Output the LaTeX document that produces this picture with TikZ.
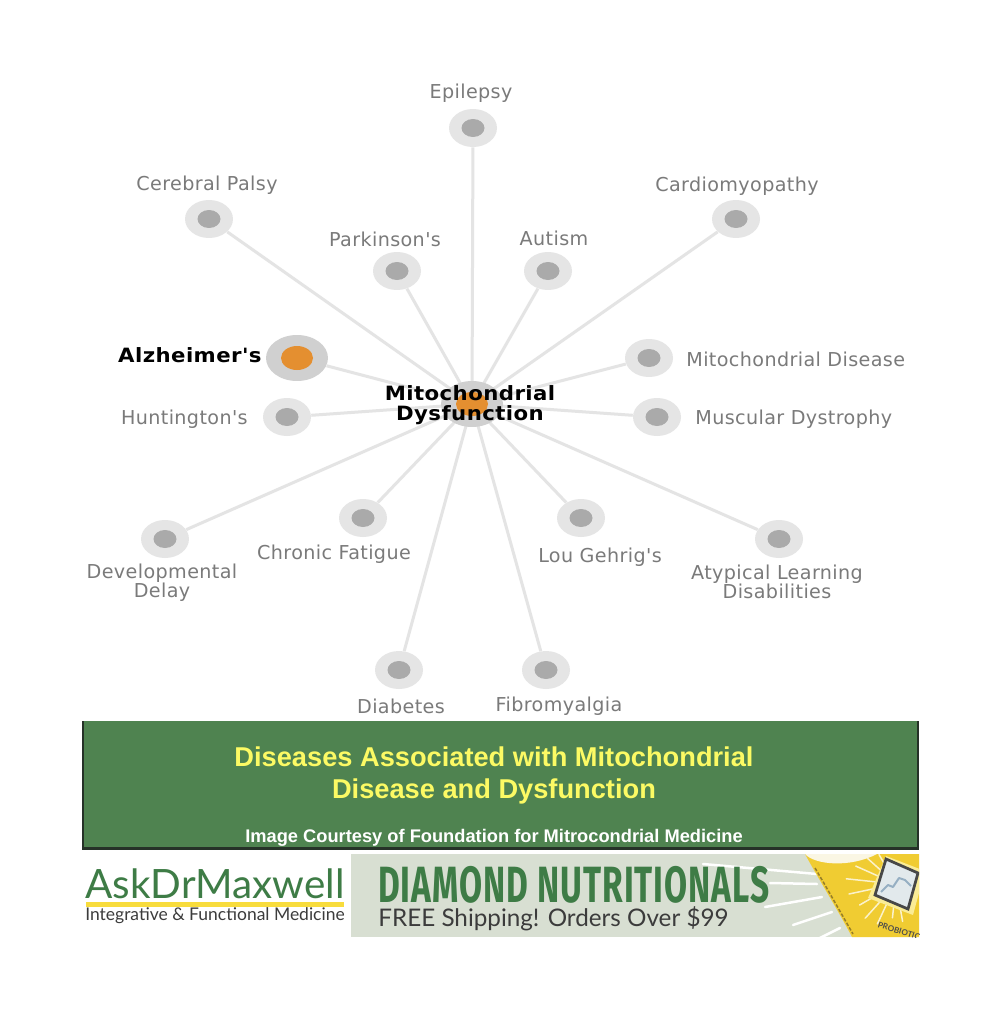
\documentclass[tikz,border=0pt]{standalone}
\usepackage{fontspec}
\setmainfont{Liberation Sans}
\newfontfamily\labelfont[LetterSpace=2]{DejaVu Sans}
\newfontfamily\logofont{Lato}
\newfontfamily\narrowfont[LetterSpace=3]{Fira Sans}
\usetikzlibrary{shapes.geometric}
\definecolor{spokeGrey}{RGB}{228,228,228}
\definecolor{haloGrey}{RGB}{229,229,229}
\definecolor{dotGrey}{RGB}{170,170,170}
\definecolor{activeHalo}{RGB}{208,208,208}
\definecolor{activeDot}{RGB}{228,143,48}
\definecolor{labelGrey}{RGB}{122,122,122}
\definecolor{bannerGreen}{RGB}{79,131,80}
\definecolor{bannerEdge}{RGB}{38,50,40}
\definecolor{bannerYellow}{RGB}{252,250,100}
\definecolor{logoGreen}{RGB}{62,124,70}
\definecolor{logoYellow}{RGB}{248,220,60}
\definecolor{logoText}{RGB}{60,60,60}
\definecolor{panelGrey}{RGB}{216,223,210}
\definecolor{bottleYellow}{RGB}{240,204,50}
\definecolor{bottleCream}{RGB}{250,246,228}
\definecolor{bottleGlow}{RGB}{250,236,150}
\definecolor{bottleStripe}{RGB}{150,125,40}
\definecolor{chartFill}{RGB}{226,233,236}
\definecolor{chartLine}{RGB}{150,175,195}

\begin{document}
\begin{tikzpicture}[x=.02cm,y=-.02cm,
      halo/.style={ellipse, inner sep=0pt, fill=haloGrey,
        minimum width=.96cm, minimum height=.76cm},
      dot/.style={ellipse, inner sep=0pt, fill=dotGrey,
        minimum width=.46cm, minimum height=.36cm},
      activehalo/.style={ellipse, inner sep=0pt, fill=activeHalo,
        minimum width=1.24cm, minimum height=.92cm},
      activedot/.style={ellipse, inner sep=0pt, fill=activeDot,
        minimum width=.64cm, minimum height=.48cm},
      spoke/.style={draw=spokeGrey, line width=.06cm},
      disease/.style={font=\fontsize{10.9}{10.8}\selectfont\labelfont,
        text=labelGrey, align=center, inner sep=0pt},
      strong/.style={font=\fontsize{11.2}{11.4}\selectfont\labelfont\bfseries,
        text=black, align=center, inner sep=0pt, xscale=1.08, transform shape},
      title/.style={font=\fontsize{15.5}{18.2}\selectfont\bfseries,
        text=bannerYellow, align=center, inner sep=0pt},
      ray/.style={draw=white, line width=.05cm, line cap=round},
      glow/.style={draw=white, line width=.03cm, line cap=round, opacity=.75}]
      \useasboundingbox (0,0) rectangle (1001,1024);
      \fill[white] (0,0) rectangle (1001,1024);

      \coordinate (center) at (472,404);
      \foreach \name/\x/\y in {epilepsy/473/128, palsy/209/219, parkinson/397/271,
          autism/548/271, cardio/736/219, mitodisease/649/358, muscular/657/417,
          atypical/779/539, gehrig/581/518, fibro/546/670, diabetes/399/670,
          fatigue/363/518, delay/165/539, huntington/287/417}{
        \node[halo] (\name) at (\x,\y) {};
        \node[dot] (\name Dot) at (\x,\y) {};
        \draw[spoke] (center) -- (\name);}
      \node[activehalo] (alzheimer) at (297,358) {};
      \node[activedot] (alzheimerDot) at (297,358) {};
      \draw[spoke] (center) -- (alzheimer);
      \node[activehalo] (hub) at (472,404) {};
      \node[activedot] (hubDot) at (472,404) {};

      \node[strong] (hubText) at (470,405) {Mitochondrial\\Dysfunction};
      \node[strong, anchor=east] (alzheimerText) at (262,355) {Alzheimer's};
      \node[disease] (epilepsyText) at (471,93) {Epilepsy};
      \node[disease] (palsyText) at (207,185) {Cerebral Palsy};
      \node[disease] (parkinsonText) at (385,239) {Parkinson's};
      \node[disease] (autismText) at (554,238) {Autism};
      \node[disease] (cardioText) at (737,186) {Cardiomyopathy};
      \node[disease, anchor=west] (mitodiseaseText) at (686,359) {Mitochondrial Disease};
      \node[disease, anchor=west] (muscularText) at (695,419) {Muscular Dystrophy};
      \node[disease, anchor=east] (huntingtonText) at (248,419) {Huntington's};
      \node[disease] (atypicalText) at (777,582) {Atypical Learning\\Disabilities};
      \node[disease] (gehrigText) at (600,557) {Lou Gehrig's};
      \node[disease] (fibroText) at (559,706) {Fibromyalgia};
      \node[disease] (diabetesText) at (401,706) {Diabetes};
      \node[disease] (fatigueText) at (334,554) {Chronic Fatigue};
      \node[disease] (delayText) at (162,583) {Developmental\\Delay};

      \fill[bannerEdge] (82,721) rectangle (919,850);
      \fill[bannerGreen] (84,721) rectangle (917,847);
      \node[title] (bannerTitle) at (494,775) {Diseases Associated with Mitochondrial\\Disease and Dysfunction};
      \node[font=\fontsize{10.4}{11}\selectfont\bfseries, text=white, inner sep=0pt]
        (bannerCredit) at (494,838) {Image Courtesy of Foundation for Mitrocondrial Medicine};

      \node[font=\fontsize{23}{23}\selectfont\logofont, text=logoGreen, inner sep=0pt]
        (logoName) at (215,884) {AskDrMaxwell};
      \fill[logoYellow] (86,902) rectangle (344,907);
      \node[font=\fontsize{9.95}{10}\selectfont\logofont, text=logoText, inner sep=0pt]
        (logoTag) at (215,916) {Integrative \& Functional Medicine};

      \begin{scope}
        \clip (351,854) rectangle (919,937);
        \fill[panelGrey] (351,854) rectangle (919,937);
        \draw[ray] (703,864) -- (817,874);
        \draw[ray] (770,883) -- (817,884);
        \draw[ray] (765,907) -- (822,897);
        \draw[ray] (793,925) -- (832,912);
        \draw[ray] (818,939) -- (840,928);
        \fill[bottleYellow] (805,854) .. controls (822,885) and (838,910) .. (852,937)
          -- (919,937) -- (919,854) -- cycle;
        \draw[bottleStripe, line width=.03cm, dash pattern=on 2pt off 1pt]
          (815,868) .. controls (827,888) and (842,915) .. (853,934);
        \fill[bottleCream] (805,854) .. controls (815,865) and (850,868) .. (877,854) -- cycle;
        % burst behind the chart
        \foreach \a/\r in {150/42, 168/48, 186/50, 204/44, 222/38, 96/34, 115/44, 132/46,
            240/34, 60/32, 80/38, 15/28, 335/30}{
          \draw[glow] (896,884) -- ++(\a:\r);}
        \fill[bottleGlow] (886,856) -- (925,871) -- (913,915) -- (868,898) -- cycle;
        \draw[black!72, line width=.055cm, fill=chartFill]
          (886,859) -- (918,873) -- (908,909) -- (875,895) -- cycle;
        \draw[chartLine, line width=.04cm, line join=round]
          (881,892) -- (888,885) -- (893,887) -- (899,878) -- (905,880) -- (911,886);
        \node[font=\fontsize{4.6}{5}\selectfont\logofont\bfseries, text=black!70,
          rotate=-17, inner sep=0pt] (bottleBrand) at (899,931) {PROBIOTIC};
      \end{scope}
      \node[font=\fontsize{29}{29}\selectfont\narrowfont\bfseries, text=logoGreen,
        xscale=.656, transform shape, inner sep=0pt, anchor=west]
        (panelTitle) at (378,885) {DIAMOND NUTRITIONALS};
      \node[font=\fontsize{13.8}{14}\selectfont\logofont, text=logoText, inner sep=0pt, anchor=west]
        (panelOffer) at (378,919) {FREE Shipping! Orders Over \$99};
    \end{tikzpicture}
\end{document}
